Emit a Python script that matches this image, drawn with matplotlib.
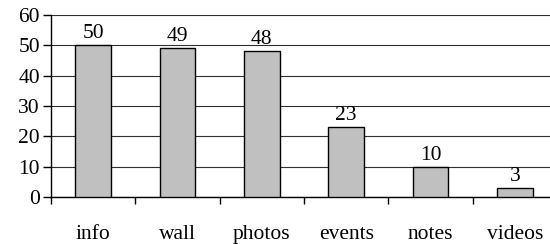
import matplotlib
matplotlib.use("Agg")
import matplotlib.pyplot as plt
import numpy as np

categories = ["info", "wall", "photos", "events", "notes", "videos"]
values = [50, 49, 48, 23, 10, 3]
yticks = [0, 10, 20, 30, 40, 50, 60]

plt.rcParams['font.family'] = ['Liberation Serif', 'DejaVu Serif']
fs = 15.5

fig = plt.figure(figsize=(5.5, 2.44), dpi=100)
ax = fig.add_axes([51/550, 47/244, 506/550, 182/244])

x = np.arange(len(categories))
bars = ax.bar(x, values, width=0.42, color="#c0c0c0", edgecolor="black", linewidth=1.0, zorder=3)
for xi, v in zip(x, values):
    ax.annotate(str(v), (xi, v), xytext=(0, 1.5), textcoords="offset points",
                ha="center", va="bottom", fontsize=fs, zorder=4)

ax.set_xlim(-0.5, len(categories) - 0.5)
ax.set_ylim(0, 60)
ax.set_yticks(yticks)
ax.set_yticklabels([str(t) for t in yticks], fontsize=fs)
ax.yaxis.grid(True, color="#303030", linewidth=0.8, zorder=0)

ax.set_xticks(np.arange(len(categories) + 1) - 0.5)
ax.set_xticklabels([])
ax.set_xticks(x, minor=True)
ax.set_xticklabels(categories, minor=True, fontsize=fs)
ax.tick_params(axis="x", which="major", length=5, width=1, direction="out")
ax.tick_params(axis="x", which="minor", length=0, pad=20)
ax.tick_params(axis="y", length=6, width=1, pad=2)

for s in ["top", "right"]:
    ax.spines[s].set_visible(False)
ax.spines["left"].set_linewidth(1)
ax.spines["bottom"].set_linewidth(1)
ax.spines["left"].set_zorder(5)

fig.savefig("out.png", dpi=100)
